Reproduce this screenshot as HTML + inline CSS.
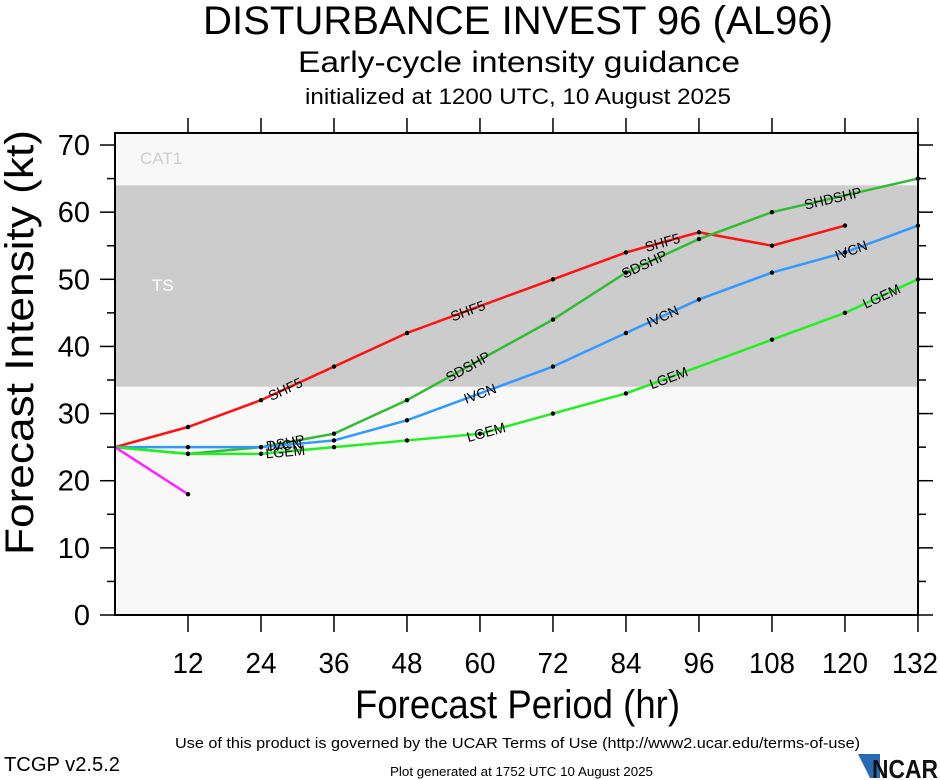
<!DOCTYPE html>
<html><head><meta charset="utf-8"><style>
body{margin:0;background:#fff;}
svg{display:block;font-family:"Liberation Sans",sans-serif;}
</style></head><body>
<svg id="s" width="940" height="780" xmlns="http://www.w3.org/2000/svg">
<rect width="940" height="780" fill="#fff"/>
<text x="203" y="34" font-size="40" textLength="630" lengthAdjust="spacingAndGlyphs">DISTURBANCE INVEST 96 (AL96)</text>
<text x="298" y="72" font-size="30" textLength="442" lengthAdjust="spacingAndGlyphs">Early-cycle intensity guidance</text>
<text x="305" y="104" font-size="22" textLength="426" lengthAdjust="spacingAndGlyphs">initialized at 1200 UTC, 10 August 2025</text>
<g id="plot"></g>
<text x="355" y="718" font-size="40" textLength="325" lengthAdjust="spacingAndGlyphs">Forecast Period (hr)</text>
<text transform="translate(33,555) rotate(-90)" font-size="40" textLength="425" lengthAdjust="spacingAndGlyphs">Forecast Intensity (kt)</text>
<text x="175" y="748" font-size="15" textLength="685" lengthAdjust="spacingAndGlyphs">Use of this product is governed by the UCAR Terms of Use (http://www2.ucar.edu/terms-of-use)</text>
<text x="4" y="771" font-size="20" textLength="116" lengthAdjust="spacingAndGlyphs">TCGP v2.5.2</text>
<text x="390" y="776" font-size="13" textLength="263" lengthAdjust="spacingAndGlyphs">Plot generated at 1752 UTC   10 August 2025</text>
<polygon points="858,754 880,754 880,778 870,778" fill="#2a6ab0"/>
<text x="872" y="778" font-size="26" font-weight="bold" fill="#111" textLength="66" lengthAdjust="spacingAndGlyphs">NCAR</text>
</svg>
<script>
const X=h=>115+h*6.083, Y=v=>615-v*6.714;
let s='';
s+=`<rect x="115" y="133" width="803" height="482" fill="#f8f8f8"/>`;
s+=`<rect x="115" y="${Y(64)}" width="803" height="${Y(34)-Y(64)}" fill="#cccccc"/>`;
s+=`<text x="140" y="164" font-size="17" fill="#cfcfcf">CAT1</text>`;
s+=`<text x="152" y="291" font-size="17" fill="#fff">TS</text>`;
const ser=[
 ['#ff1111',[[0,25],[12,28],[24,32],[36,37],[48,42],[72,50],[84,54],[96,57],[108,55],[120,58]],[[28,'SHF5'],[58,'SHF5'],[90,'SHF5']]],
 ['#33bb33',[[0,25],[12,24],[24,25],[36,27],[48,32],[72,44],[84,51],[96,56],[108,60],[132,65]],[[28,'DSHP'],[58,'SDSHP'],[87,'SDSHP'],[118,'SHDSHP']]],
 ['#3399ff',[[0,25],[12,25],[24,25],[36,26],[48,29],[72,37],[84,42],[96,47],[108,51],[120,54],[132,58]],[[28,'IVCN'],[60,'IVCN'],[90,'IVCN'],[121,'IVCN']]],
 ['#22ee22',[[0,25],[12,24],[24,24],[36,25],[48,26],[60,27],[72,30],[84,33],[108,41],[120,45],[132,50]],[[28,'LGEM'],[61,'LGEM'],[91,'LGEM'],[126,'LGEM']]],
 ['#ff22ff',[[0,25],[12,18]],[]]
];
function interp(p,h){for(let i=0;i<p.length-1;i++){if(h>=p[i][0]&&h<=p[i+1][0]){const t=(h-p[i][0])/(p[i+1][0]-p[i][0]);return [p[i][1]+t*(p[i+1][1]-p[i][1]),p[i],p[i+1]];}}return null;}
for(const [c,p,labs] of ser){
 s+=`<polyline fill="none" stroke="${c}" stroke-width="2.5" points="${p.map(q=>X(q[0])+','+Y(q[1])).join(' ')}"/>`;
 for(const q of p.slice(1)) s+=`<circle cx="${X(q[0])}" cy="${Y(q[1])}" r="2.2" fill="#000"/>`;
 for(const [h,t] of labs){const r=interp(p,h);if(!r)continue;const a=Math.atan2(Y(r[2][1])-Y(r[1][1]),X(r[2][0])-X(r[1][0]))*180/Math.PI;
  s+=`<text transform="translate(${X(h)},${Y(r[0])}) rotate(${a})" font-size="14" text-anchor="middle" dy="5">${t}</text>`;}
}
s+=`<rect x="115" y="133" width="803" height="482" fill="none" stroke="#000" stroke-width="2"/>`;
for(let v=0;v<=70;v+=5){const y=Y(v),maj=v%10==0;s+=`<line x1="${maj?100:107}" x2="115" y1="${y}" y2="${y}" stroke="#000" stroke-width="1.5"/>`;
 s+=`<line x1="918" x2="${maj?933:926}" y1="${y}" y2="${y}" stroke="#000" stroke-width="1.5"/>`;
 if(maj)s+=`<text x="90" y="${y+10}" font-size="29" text-anchor="end">${v}</text>`;}
for(let h=12;h<=132;h+=12){const x=X(h);s+=`<line x1="${x}" x2="${x}" y1="615" y2="632" stroke="#000" stroke-width="1.5"/><line x1="${x}" x2="${x}" y1="118" y2="133" stroke="#000" stroke-width="1.5"/>`;
 const w=h>=100?46:31;const cx=h==132?x-3:x;
 s+=`<text x="${cx-w/2}" y="673" font-size="29" textLength="${w}" lengthAdjust="spacingAndGlyphs">${h}</text>`;}
document.getElementById('plot').innerHTML=s;
</script>
</body></html>
